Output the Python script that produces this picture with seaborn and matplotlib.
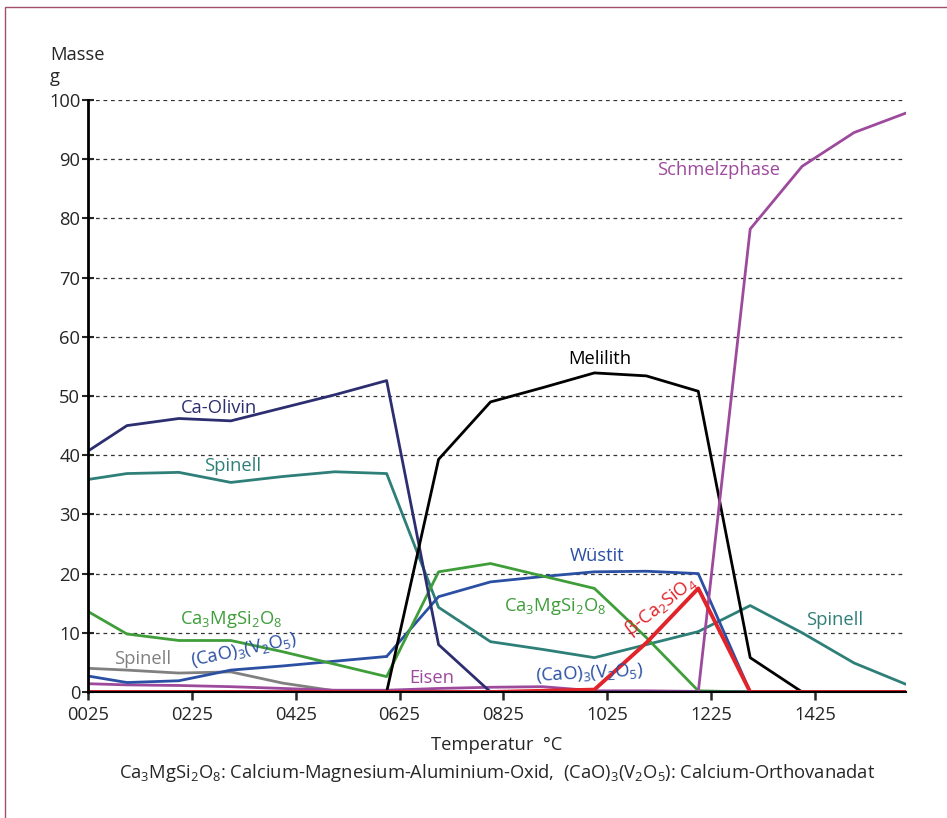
import numpy as np
import pandas as pd
import matplotlib.pyplot as plt
import seaborn as sns
from matplotlib.patches import Rectangle

# temperature steps (°C)
temps = [25, 100, 200, 300, 400, 500, 600, 700, 800, 900, 1000, 1100, 1200, 1300, 1400, 1500, 1600]

# phase masses (g); None = no line drawn
ca_olivin = [40.7, 45.0, 46.2, 45.8, 48.0, 50.2, 52.6, 8.0, 0, 0, 0, 0, 0, 0, 0, 0, 0]
spinell = [35.9, 36.9, 37.1, 35.4, 36.4, 37.2, 36.9, 14.3, 8.5, 7.2, 5.8, 8.0, 10.2, 14.6, 10.0, 4.9, 1.3]
spinell_2 = [4.0, 3.7, 3.2, 3.4, 1.5, 0.2, 0, 0, 0, 0, 0, 0, 0, 0, 0, 0, 0]
melilith = [0, 0, 0, 0, 0, 0, 0, 39.3, 49.0, 51.4, 53.9, 53.4, 50.8, 5.8, 0, 0, 0]
schmelze = [0, 0, 0, 0, 0, 0, 0, 0, 0, 0, 0, 0, 0, 78.2, 88.8, 94.5, 97.8]
eisen = [1.4, 1.2, 1.1, 0.9, 0.6, 0.3, 0.3, 0.6, 0.8, 0.9, 0.2, 0.2, 0.1, 0, 0, 0, 0]
vanadat = [2.7, 1.6, 1.9, 3.7, 4.4, 5.2, 6.0, None, None, None, None, None, None, None, None, None, None]
wuestit = [None, None, None, None, None, None, 6.0, 16.1, 18.6, 19.5, 20.3, 20.4, 20.0, 0, 0, 0, 0]
ca3mg = [13.6, 9.8, 8.7, 8.7, 6.8, 4.7, 2.6, 20.3, 21.7, 19.6, 17.5, 9.2, 0.2, 0, 0, 0, 0]
beta_c2s = [0, 0, 0, 0, 0, 0, 0, 0, 0, 0.2, 0.4, 8.3, 17.5, 0, 0, 0, 0]

C_NAVY = "#2c2e70"
C_TEAL = "#2f7f79"
C_GRAY = "#808080"
C_BLUE = "#2a4fa3"
C_GREEN = "#3f9d3a"
C_PURPLE = "#9d4a9d"
C_RED = "#e1232a"

series = [
    ("Spinell", spinell, C_TEAL, 2.0),
    ("Spinell (2)", spinell_2, C_GRAY, 2.0),
    ("Eisen", eisen, C_PURPLE, 2.0),
    ("(CaO)3(V2O5)", vanadat, C_BLUE, 2.0),
    ("Wüstit", wuestit, C_BLUE, 2.0),
    ("Ca3MgSi2O8", ca3mg, C_GREEN, 2.0),
    ("Ca-Olivin", ca_olivin, C_NAVY, 2.0),
    ("Melilith", melilith, "black", 2.0),
    ("Schmelzphase", schmelze, C_PURPLE, 2.0),
    ("beta-Ca2SiO4", beta_c2s, C_RED, 2.8),
]

sns.set_theme(style="white")
plt.rcParams['font.family'] = ['Open Sans', 'DejaVu Sans']
plt.rcParams['mathtext.fontset'] = 'custom'
plt.rcParams['mathtext.rm'] = 'Open Sans'
plt.rcParams['mathtext.it'] = 'Open Sans'

FS = 13.2

fig = plt.figure(figsize=(9.47, 8.18), dpi=100)
ax = fig.add_axes([88 / 947, 1 - 692 / 818, (906 - 88) / 947, (692 - 100) / 818])

for name, vals, color, lw in series:
    df = pd.DataFrame({"T": temps, "m": vals}).dropna()
    sns.lineplot(data=df, x="T", y="m", color=color, linewidth=lw, ax=ax, legend=False)

ax.set_xlim(25, 1600)
ax.set_ylim(0, 100)
ax.set_yticks(range(0, 101, 10))
ax.set_xticks(range(25, 1426, 200))
ax.set_xticklabels([f"{t:04d}" for t in range(25, 1426, 200)])
ax.set_xlabel("")
ax.set_ylabel("")
for y in range(10, 101, 10):
    ax.axhline(y, color="#333333", lw=0.9, ls=(0, (3, 3)), zorder=0)

for s in ["top", "right"]:
    ax.spines[s].set_visible(False)
ax.spines["left"].set_linewidth(2)
ax.spines["left"].set_color("black")
ax.spines["bottom"].set_linewidth(1.5)
ax.spines["bottom"].set_color("black")
ax.tick_params(axis="y", direction="inout", length=9, width=1.5, labelsize=FS, pad=1, left=True)
ax.tick_params(axis="x", direction="out", length=6, width=1.8, labelsize=FS, pad=4, bottom=True)

lab = dict(fontsize=FS, ha="center", va="center")
ax.text(278, 48.0, "Ca-Olivin", color=C_NAVY, **lab)
ax.text(304, 38.2, "Spinell", color=C_TEAL, **lab)
ax.text(1240, 88.2, "Schmelzphase", color=C_PURPLE, **lab)
ax.text(1010, 56.2, "Melilith", color="black", **lab)
ax.text(1006, 23.0, "Wüstit", color=C_BLUE, **lab)
ax.text(301, 12.2, r"Ca$_\mathregular{3}$MgSi$_\mathregular{2}$O$_\mathregular{8}$", color=C_GREEN, **lab)
ax.text(924, 14.4, r"Ca$_\mathregular{3}$MgSi$_\mathregular{2}$O$_\mathregular{8}$", color=C_GREEN, **lab)
ax.text(131, 5.6, "Spinell", color=C_GRAY, **lab)
ax.text(326, 7.1, r"(CaO)$_\mathregular{3}$(V$_\mathregular{2}$O$_\mathregular{5}$)", color=C_BLUE,
        rotation=12, rotation_mode="anchor", **lab)
ax.text(686, 2.4, "Eisen", color=C_PURPLE, **lab)
ax.text(990, 3.1, r"(CaO)$_\mathregular{3}$(V$_\mathregular{2}$O$_\mathregular{5}$)", color=C_BLUE,
        rotation=3, rotation_mode="anchor", **lab)
ax.text(1128, 14.6, r"β-Ca$_\mathregular{2}$SiO$_\mathregular{4}$", color=C_RED,
        rotation=38, rotation_mode="anchor", **lab)
ax.text(1463, 12.2, "Spinell", color=C_TEAL, **lab)

fig.text(50 / 947, 1 - 55 / 818, "Masse", fontsize=FS, ha="left", va="center")
fig.text(50 / 947, 1 - 77 / 818, "g", fontsize=FS, ha="left", va="center")
fig.text(497 / 947, 1 - 745 / 818, "Temperatur  °C", fontsize=FS, ha="center", va="center")
fig.text(497 / 947, 1 - 773 / 818,
         r"Ca$_\mathregular{3}$MgSi$_\mathregular{2}$O$_\mathregular{8}$: Calcium-Magnesium-Aluminium-Oxid,  "
         r"(CaO)$_\mathregular{3}$(V$_\mathregular{2}$O$_\mathregular{5}$): Calcium-Orthovanadat",
         fontsize=FS, ha="center", va="center")

# thin frame around the figure
fig.patches.append(Rectangle((5 / 947, -0.1), 1.2, 1 - 7 / 818 + 0.1, transform=fig.transFigure,
                             fill=False, edgecolor="#a0506e", linewidth=1.0))

fig.savefig("out.png", dpi=100)
